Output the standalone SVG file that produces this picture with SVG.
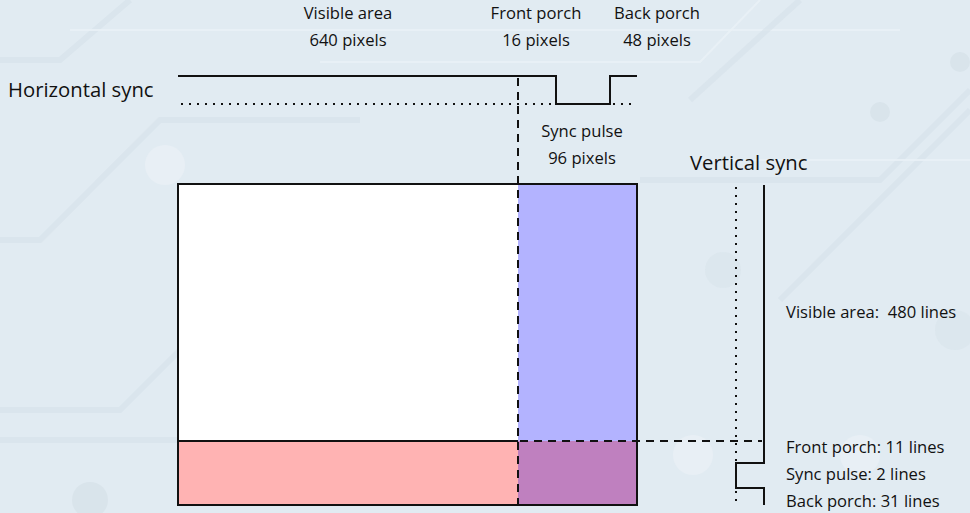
<svg xmlns="http://www.w3.org/2000/svg" width="970" height="513" viewBox="0 0 970 513">
<style>
text{font-family:"Open Sans","Noto Sans",sans-serif;fill:#111;}
.lbl{font-size:16.6px;}
.big{font-size:20.3px;}
.bg{fill:none;stroke:#d6e1e9;stroke-width:6;opacity:.6}
.bgl{fill:none;stroke:#eaf1f6;stroke-width:2;opacity:.8}
.sig{fill:none;stroke:#111;stroke-width:2}
.dot{fill:none;stroke:#111;stroke-width:2;stroke-dasharray:2 6}
.dash{fill:none;stroke:#111;stroke-width:2;stroke-dasharray:8 6}
</style>
<rect width="970" height="513" fill="#e1ebf2"/>
<g id="background">
<path class="bg" d="M0 60 L60 60 L130 0"/>
<path class="bg" d="M0 240 L40 240 L160 120 L360 120"/>
<path class="bgl" d="M70 30 L900 30"/>
<path class="bgl" d="M320 62 L700 62 L760 0"/>
<path class="bg" d="M0 410 L120 410 L330 200"/>
<path class="bg" d="M0 440 L180 440"/>
<path class="bg" d="M690 100 L800 0"/>
<path class="bg" d="M780 300 L970 110"/>
<path class="bg" d="M640 180 L880 180 L970 90"/>
<path class="bgl" d="M700 160 L970 160"/>
<circle cx="165" cy="165" r="20" fill="#e8eff5"/>
<circle cx="960" cy="62" r="10" fill="#d9e4eb"/>
<circle cx="880" cy="112" r="10" fill="#d9e4eb"/>
<circle cx="723" cy="270" r="18" fill="#d9e4eb" opacity=".6"/>
<circle cx="955" cy="330" r="20" fill="#d9e4eb" opacity=".6"/>
<circle cx="693" cy="455" r="20" fill="#e8eff5"/>
<circle cx="860" cy="455" r="20" fill="#e8eff5"/>
<circle cx="90" cy="500" r="18" fill="#d9e4eb"/>
</g>
<g id="frame">
<rect x="178" y="184" width="340" height="257" fill="#ffffff"/>
<rect x="518" y="184" width="119" height="257" fill="#b3b3ff"/>
<rect x="178" y="441" width="340" height="64" fill="#ffb3b3"/>
<rect x="518" y="441" width="119" height="64" fill="#bf80bf"/>
<rect x="178" y="184" width="459" height="321" fill="none" stroke="#111" stroke-width="2"/>
<line x1="178" y1="441" x2="518" y2="441" stroke="#111" stroke-width="2"/>
</g>
<g id="connectors">
<path class="sig" d="M178 76 H556 V104 H610 V76 H637"/>
<path class="dot" d="M181 104 H637"/>
<path class="dash" d="M518 78 V505"/>
<path class="dash" d="M520 441 H762"/>
<path class="dot" d="M736 187 V505"/>
<path class="sig" d="M764 185 V463 H736 V488 H764 V505"/>
</g>
<g id="hsync-labels">
<text class="big" x="8" y="97">Horizontal sync</text>
<text class="lbl" x="348" y="19" text-anchor="middle">Visible area</text>
<text class="lbl" x="348" y="46" text-anchor="middle">640 pixels</text>
<text class="lbl" x="536" y="19" text-anchor="middle">Front porch</text>
<text class="lbl" x="536" y="46" text-anchor="middle">16 pixels</text>
<text class="lbl" x="657" y="19" text-anchor="middle">Back porch</text>
<text class="lbl" x="657" y="46" text-anchor="middle">48 pixels</text>
<text class="lbl" x="582" y="137" text-anchor="middle">Sync pulse</text>
<text class="lbl" x="582" y="164" text-anchor="middle">96 pixels</text>
</g>
<g id="vsync-labels">
<text class="big" x="690" y="170">Vertical sync</text>
<text class="lbl" x="786" y="318" xml:space="preserve">Visible area:  480 lines</text>
<text class="lbl" x="786" y="453">Front porch: 11 lines</text>
<text class="lbl" x="786" y="480">Sync pulse: 2 lines</text>
<text class="lbl" x="786" y="507">Back porch: 31 lines</text>
</g>
</svg>
